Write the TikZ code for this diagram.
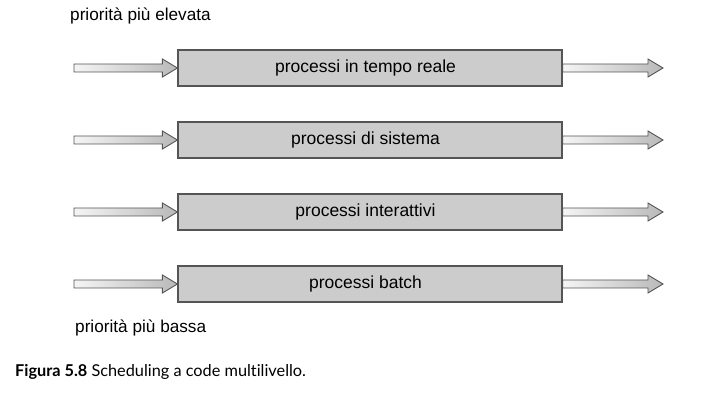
\documentclass[tikz,border=0pt]{standalone}
\usepackage{fontspec}
\setmainfont{Liberation Sans}
\newfontfamily\capfont[Ligatures={NoCommon}]{Lato}
\usetikzlibrary{calc}
\definecolor{boxgray}{HTML}{CCCCCC}
\definecolor{edgegray}{HTML}{555555}
\tikzset{
  procbox/.style={draw=edgegray, line width=1.2pt, fill=boxgray, minimum width=384pt, minimum height=36pt, inner sep=0pt, font=\fontsize{17.5}{20}\selectfont},
  blockarr/.style={draw=edgegray, line width=0.9pt, line join=miter, left color=gray!8, right color=gray!55},
  lbl/.style={font=\fontsize{17.2}{20}\selectfont, anchor=base west, inner sep=0pt},
}
\newcommand\barrow[2]{%
  \draw[blockarr] ($(#1)+(0,4)$) -- ($(#2)+(-15,4)$) -- ($(#2)+(-15,9)$) -- (#2)
    -- ($(#2)+(-15,-9)$) -- ($(#2)+(-15,-4)$) -- ($(#1)+(0,-4)$) -- cycle;}
\begin{document}
\begin{tikzpicture}[x=1pt,y=1pt]
\useasboundingbox (0,0) rectangle (702,-406);
\node[lbl] (top) at (70,-20.5) {priorità più elevata};
\node[procbox] (b1) at (370,-68) {\hspace*{-9pt}processi in tempo reale};
\node[procbox] (b2) at (370,-140) {\hspace*{-9pt}processi di sistema};
\node[procbox] (b3) at (370,-212) {\hspace*{-9pt}processi interattivi};
\node[procbox] (b4) at (370,-284) {\hspace*{-9pt}processi batch};
\node[lbl] (bot) at (75,-333) {priorità più bassa};
\node[anchor=base west, inner sep=0pt, font=\capfont\fontsize{16.3}{18}\selectfont] (cap) at (15,-376) {\textbf{Figura 5.8} Scheduling a code multilivello.};
\foreach \i/\y in {1/-68,2/-140,3/-212,4/-284}{
  \coordinate (l\i) at (74,\y);
  \coordinate (r\i) at (663,\y);
  \barrow{l\i}{b\i.west}
  \barrow{b\i.east}{r\i}
}
\end{tikzpicture}
\end{document}
